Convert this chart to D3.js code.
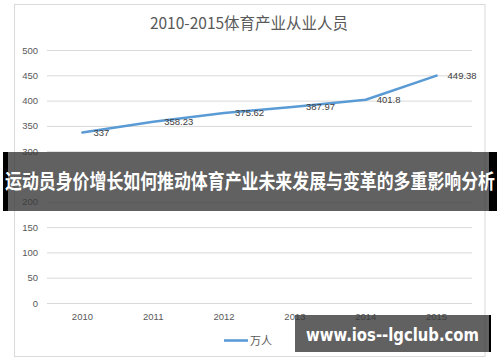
<!DOCTYPE html>
<html><head><meta charset="utf-8">
<script src="https://cdn.jsdelivr.net/npm/d3@7"></script>
<style>body{margin:0;background:#fff}svg{display:block}</style>
</head><body>
<svg id="c" width="500" height="362"></svg>
<script>
const years = ["2010","2011","2012","2013","2014","2015"];
const values = [337, 358.23, 375.62, 387.97, 401.8, 449.38];
const valueLabels = ["337","358.23","375.62","387.97","401.8","449.38"];
const yTicks = [0,50,100,150,200,250,300,350,400,450,500];
const title = "2010-2015体育产业从业人员";
const seriesName = "万人";
const bannerText = "运动员身价增长如何推动体育产业未来发展与变革的多重影响分析";
const watermark = "www.ios--lgclub.com";

const svg = d3.select("#c");
const font = "'Liberation Sans', Arial, 'Noto Sans CJK SC', sans-serif";
const cjk = "'Noto Sans CJK SC', 'Liberation Sans', sans-serif";

svg.append("rect").attr("x",14.5).attr("y",4.5).attr("width",470.5).attr("height",352)
  .attr("fill","#fff").attr("stroke","#d9d9d9");

const x = d3.scaleBand().domain(years).range([47,472]);
const y = d3.scaleLinear().domain([0,500]).range([303,50]);

svg.append("text").attr("x",249).attr("y",29).attr("text-anchor","middle")
  .attr("font-family",cjk).attr("font-size",15.5).attr("fill","#595959").text(title);

const yAxis = svg.append("g").attr("transform","translate(47,0)")
  .call(d3.axisLeft(y).tickValues(yTicks).tickSize(-425).tickPadding(9));
yAxis.select(".domain").remove();
yAxis.selectAll("line").attr("stroke","#d9d9d9");
yAxis.selectAll("text").attr("font-family",font).attr("font-size",9.5).attr("fill","#595959");

const xAxis = svg.append("g").attr("transform","translate(0,303)")
  .call(d3.axisBottom(x).tickSize(0).tickPadding(10));
xAxis.select(".domain").remove();
xAxis.selectAll("text").attr("font-family",font).attr("font-size",9.5).attr("fill","#595959");

const line = d3.line().x((d,i)=>x(years[i])+x.bandwidth()/2).y(d=>y(d));
svg.append("path").datum(values).attr("d",line).attr("fill","none")
  .attr("stroke","#5b9bd5").attr("stroke-width",2.6).attr("stroke-linejoin","round").attr("stroke-linecap","round");

svg.append("g").selectAll("text").data(values).join("text")
  .attr("x",(d,i)=>x(years[i])+x.bandwidth()/2+11).attr("y",d=>y(d)).attr("dy","0.35em")
  .attr("font-family",font).attr("font-size",9.5).attr("fill","#404040")
  .text((d,i)=>valueLabels[i]);

svg.append("line").attr("x1",224).attr("x2",248).attr("y1",340.5).attr("y2",340.5)
  .attr("stroke","#5b9bd5").attr("stroke-width",2.6);
svg.append("text").attr("x",250).attr("y",341).attr("dy","0.35em")
  .attr("font-family",cjk).attr("font-size",11).attr("fill","#595959").text(seriesName);

// banner overlay
svg.append("rect").attr("x",8).attr("y",152).attr("width",481).attr("height",59).attr("fill","#3a3a3a").attr("opacity",0.8);
svg.append("rect").attr("x",3).attr("y",152).attr("width",5).attr("height",59).attr("fill","#000");
svg.append("rect").attr("x",489).attr("y",152).attr("width",8).attr("height",59).attr("fill","#000");
svg.append("text").attr("x",250).attr("y",182).attr("dy","0.36em").attr("text-anchor","middle")
  .attr("font-family",cjk).attr("font-weight","bold").attr("font-size",20).attr("fill","#fff")
  .attr("textLength",490).attr("lengthAdjust","spacingAndGlyphs").text(bannerText);

// watermark
svg.append("rect").attr("x",295).attr("y",315).attr("width",194).attr("height",37).attr("fill","#3a3a3a").attr("opacity",0.8);
svg.append("rect").attr("x",489).attr("y",315).attr("width",2).attr("height",37).attr("fill","#000");
svg.append("text").attr("x",306).attr("y",341)
  .attr("font-family","'DejaVu Sans', sans-serif").attr("font-weight","bold").attr("font-size",17).attr("fill","#fff")
  .attr("textLength",173).attr("lengthAdjust","spacingAndGlyphs").text(watermark);
</script>
</body></html>
